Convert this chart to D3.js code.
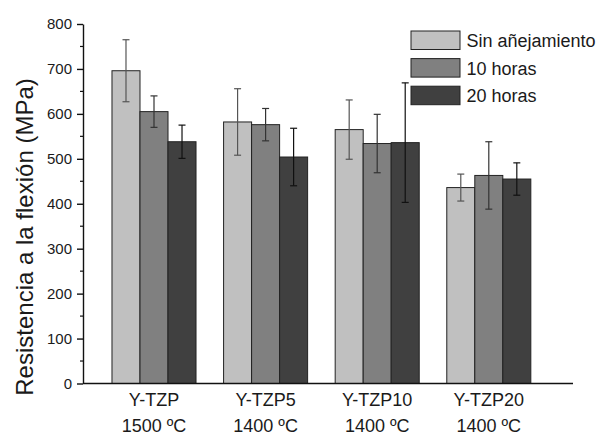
<html>

<head>
	<meta charset="utf-8">
	<script src="https://d3js.org/d3.v7.min.js"></script>
	<style>
		body { margin: 0; background: #fff; }
		text { font-family: "Liberation Sans", Arial, sans-serif; fill: #1a1a1a; }
	</style>
</head>

<body>
	<svg width="610" height="435"></svg>
	<script>
		var categories = ["Y-TZP", "Y-TZP5", "Y-TZP10", "Y-TZP20"];
		var temps = ["1500 ºC", "1400 ºC", "1400 ºC", "1400 ºC"];
		var seriesNames = ["Sin añejamiento", "10 horas", "20 horas"];
		var sinValues = [696, 582, 565, 436];
		var sinErrors = [69, 74, 66, 30];
		var h10Values = [605, 576, 534, 463];
		var h10Errors = [35, 36, 65, 75];
		var h20Values = [538, 504, 536, 455];
		var h20Errors = [37, 64, 133, 36];
		var yTicks = [0, 100, 200, 300, 400, 500, 600, 700, 800];
		var yMinorTicks = [50, 150, 250, 350, 450, 550, 650, 750];

		var fills = ["#c0c0c0", "#808080", "#404040"];
		var errColors = ["#555", "#333", "#111"];

		var values = [sinValues, h10Values, h20Values];
		var errors = [sinErrors, h10Errors, h20Errors];

		var data = [];
		categories.forEach(function (c, i) {
			seriesNames.forEach(function (s, j) {
				data.push({ cat: c, key: s, idx: j, value: values[j][i], err: errors[j][i] });
			});
		});

		var svg = d3.select("svg");
		var plotLeft = 83, plotRight = 573, plotTop = 24, plotBottom = 383.5;

		var x0 = d3.scaleBand()
			.domain(categories)
			.range([98.2, 544.6])
			.paddingInner(0.247)
			.paddingOuter(0.1235);

		var x1 = d3.scaleBand()
			.domain(seriesNames)
			.range([0, x0.bandwidth()]);

		var y = d3.scaleLinear()
			.domain([0, 800])
			.range([plotBottom, plotTop]);

		// bars
		svg.append("g")
			.selectAll("rect")
			.data(data)
			.enter().append("rect")
			.attr("x", function (d) { return x0(d.cat) + x1(d.key); })
			.attr("y", function (d) { return y(d.value); })
			.attr("width", x1.bandwidth())
			.attr("height", function (d) { return y(0) - y(d.value); })
			.attr("fill", function (d) { return fills[d.idx]; })
			.attr("stroke", "#222")
			.attr("stroke-width", 1);

		// error bars
		var eb = svg.append("g")
			.selectAll("g")
			.data(data)
			.enter().append("g")
			.attr("stroke", function (d) { return errColors[d.idx]; })
			.attr("stroke-width", 1.2);

		function cx(d) { return x0(d.cat) + x1(d.key) + x1.bandwidth() / 2; }

		eb.append("line")
			.attr("x1", cx).attr("x2", cx)
			.attr("y1", function (d) { return y(d.value + d.err); })
			.attr("y2", function (d) { return y(d.value - d.err); });
		eb.append("line")
			.attr("x1", function (d) { return cx(d) - 3.5; })
			.attr("x2", function (d) { return cx(d) + 3.5; })
			.attr("y1", function (d) { return y(d.value + d.err); })
			.attr("y2", function (d) { return y(d.value + d.err); });
		eb.append("line")
			.attr("x1", function (d) { return cx(d) - 3.5; })
			.attr("x2", function (d) { return cx(d) + 3.5; })
			.attr("y1", function (d) { return y(d.value - d.err); })
			.attr("y2", function (d) { return y(d.value - d.err); });

		// y axis
		var yAxis = svg.append("g")
			.attr("transform", "translate(" + plotLeft + ",0)")
			.call(d3.axisLeft(y).tickValues(yTicks).tickSize(6).tickSizeOuter(0).tickPadding(5));
		yAxis.selectAll("text").attr("font-size", 15).style("font-family", "'Liberation Sans', Arial, sans-serif").attr("fill", "#1a1a1a");
		yAxis.selectAll("line, path").attr("stroke", "#111").attr("stroke-width", 1.4);

		svg.append("g")
			.attr("transform", "translate(" + plotLeft + ",0)")
			.selectAll("line")
			.data(yMinorTicks)
			.enter().append("line")
			.attr("x1", -3).attr("x2", 0)
			.attr("y1", function (d) { return y(d); })
			.attr("y2", function (d) { return y(d); })
			.attr("stroke", "#111")
			.attr("stroke-width", 1.2);

		// x axis line
		svg.append("line")
			.attr("x1", plotLeft).attr("x2", plotRight)
			.attr("y1", y(0)).attr("y2", y(0))
			.attr("stroke", "#111")
			.attr("stroke-width", 1.4);

		// category labels
		svg.selectAll("text.cat")
			.data(categories)
			.enter().append("text")
			.attr("class", "cat")
			.attr("x", function (d) { return x0(d) + x0.bandwidth() / 2; })
			.attr("y", 406)
			.attr("text-anchor", "middle")
			.attr("font-size", 18)
			.text(function (d) { return d; });

		svg.selectAll("text.temp")
			.data(temps)
			.enter().append("text")
			.attr("class", "temp")
			.attr("x", function (d, i) { return x0(categories[i]) + x0.bandwidth() / 2; })
			.attr("y", 431.5)
			.attr("text-anchor", "middle")
			.attr("font-size", 18)
			.text(function (d) { return d; });

		// y title
		svg.append("text")
			.attr("transform", "translate(33,237) rotate(-90)")
			.attr("text-anchor", "middle")
			.attr("font-size", 24)
			.text("Resistencia a la flexión (MPa)");

		// legend
		var legend = svg.append("g")
			.selectAll("g")
			.data(seriesNames)
			.enter().append("g")
			.attr("transform", function (d, i) { return "translate(411," + (31 + i * 27.6) + ")"; });

		legend.append("rect")
			.attr("width", 49)
			.attr("height", 18.5)
			.attr("fill", function (d, i) { return fills[i]; })
			.attr("stroke", "#222")
			.attr("stroke-width", 1);

		legend.append("text")
			.attr("x", 55.5)
			.attr("y", 16)
			.attr("font-size", 18)
			.text(function (d) { return d; });
	</script>

</body>

</html>
